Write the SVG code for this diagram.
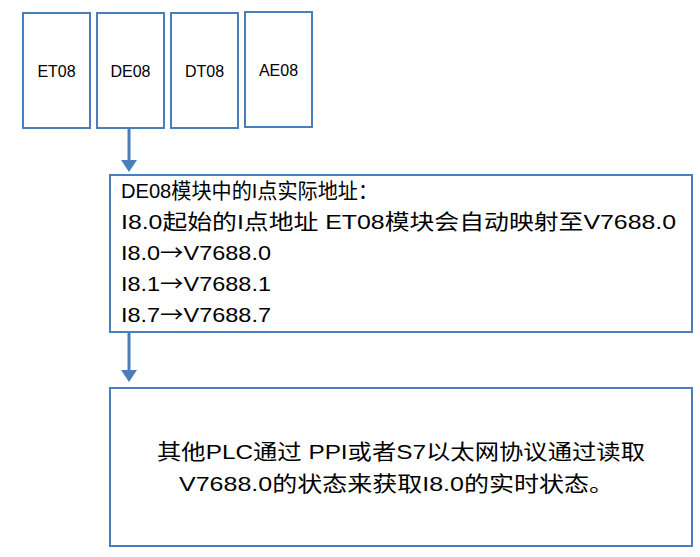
<svg xmlns="http://www.w3.org/2000/svg" width="700" height="557" viewBox="0 0 700 557">
<style>
.b{fill:#fff;stroke:#4a7ebb;stroke-width:2}
.t{font-family:"Liberation Sans","Noto Sans CJK SC",sans-serif;fill:#000}
.s{font-size:16px}
.l{font-size:21px}
.ar{font-family:"Noto Sans CJK SC",sans-serif}
.c{stroke:#4a7ebb;stroke-width:3;fill:none}
</style>
<g id="et08"><rect class="b" x="23" y="13" width="67" height="115"/><text class="t s" x="56.5" y="77" text-anchor="middle">ET08</text></g>
<g id="de08"><rect class="b" x="97" y="13" width="67" height="115"/><text class="t s" x="130.5" y="77" text-anchor="middle">DE08</text></g>
<g id="dt08"><rect class="b" x="171" y="13" width="67" height="115"/><text class="t s" x="204.5" y="77" text-anchor="middle">DT08</text></g>
<g id="ae08"><rect class="b" x="245" y="12" width="67" height="115"/><text class="t s" x="278.5" y="76" text-anchor="middle">AE08</text></g>
<g id="connectors">
<path class="c" d="M129,129V164"/>
<path d="M121,160L129,172L137,160z" fill="#4a7ebb"/>
<path class="c" d="M129,333V372"/>
<path d="M121,370L129,382L137,370z" fill="#4a7ebb"/>
</g>
<g id="info"><rect class="b" x="110" y="175" width="582" height="157"/>
<text class="t l" x="121" y="198" textLength="257" lengthAdjust="spacingAndGlyphs">DE08模块中的I点实际地址：</text>
<text class="t l" x="121" y="229" textLength="555" lengthAdjust="spacingAndGlyphs">I8.0起始的I点地址 ET08模块会自动映射至V7688.0</text>
<text class="t l" x="121" y="260" textLength="150" lengthAdjust="spacingAndGlyphs">I8.0<tspan class="ar">→</tspan>V7688.0</text>
<text class="t l" x="121" y="291" textLength="150" lengthAdjust="spacingAndGlyphs">I8.1<tspan class="ar">→</tspan>V7688.1</text>
<text class="t l" x="121" y="322" textLength="150" lengthAdjust="spacingAndGlyphs">I8.7<tspan class="ar">→</tspan>V7688.7</text>
</g>
<g id="note"><rect class="b" x="110" y="388" width="582" height="158"/>
<text class="t l" x="157" y="459" textLength="488" lengthAdjust="spacingAndGlyphs">其他PLC通过 PPI或者S7以太网协议通过读取</text>
<text class="t l" x="179" y="491" textLength="435" lengthAdjust="spacingAndGlyphs">V7688.0的状态来获取I8.0的实时状态。</text>
</g>
</svg>
